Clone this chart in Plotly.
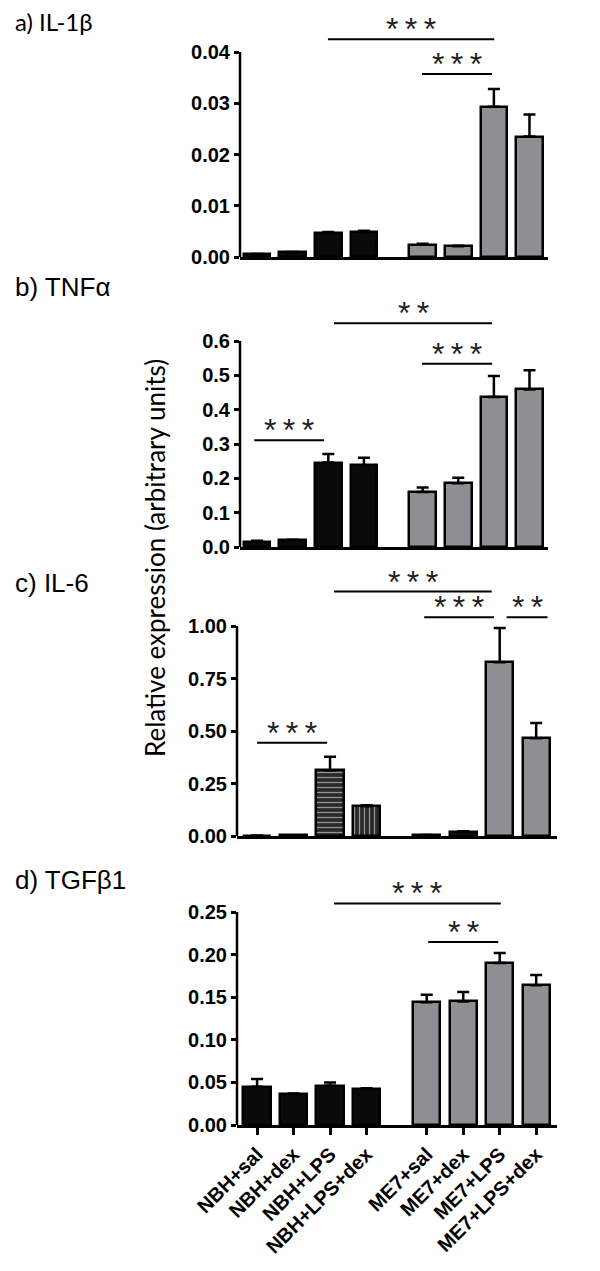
import plotly.graph_objects as go

# ---------------- data ----------------
categories = ["NBH+sal", "NBH+dex", "NBH+LPS", "NBH+LPS+dex",
              "ME7+sal", "ME7+dex", "ME7+LPS", "ME7+LPS+dex"]

il1b_mean = [0.0005, 0.0009, 0.0046, 0.0048, 0.0024, 0.0021, 0.0293, 0.0235]
il1b_sem = [0.0001, 0.0001, 0.0003, 0.0003, 0.0002, 0.0001, 0.0035, 0.0043]
il1b_ticks = [0.00, 0.01, 0.02, 0.03, 0.04]

tnfa_mean = [0.016, 0.019, 0.246, 0.238, 0.160, 0.186, 0.437, 0.459]
tnfa_sem = [0.002, 0.002, 0.025, 0.022, 0.013, 0.016, 0.061, 0.056]
tnfa_ticks = [0.0, 0.1, 0.2, 0.3, 0.4, 0.5, 0.6]

il6_mean = [0.002, 0.003, 0.313, 0.142, 0.004, 0.019, 0.827, 0.465]
il6_sem = [0.0, 0.0, 0.064, 0.005, 0.001, 0.004, 0.163, 0.073]
il6_ticks = [0.00, 0.25, 0.50, 0.75, 1.00]

tgfb1_mean = [0.045, 0.036, 0.046, 0.042, 0.144, 0.145, 0.190, 0.164]
tgfb1_sem = [0.009, 0.001, 0.004, 0.001, 0.009, 0.011, 0.012, 0.012]
tgfb1_ticks = [0.00, 0.05, 0.10, 0.15, 0.20, 0.25]

# significance brackets: (start, end, height, label)
il1b_sig = [(1.99, 6.66, 0.0425, "***"), (4.63, 6.60, 0.0357, "***")]
tnfa_sig = [(2.16, 6.60, 0.652, "**"), (4.63, 6.60, 0.534, "***"), (-0.08, 1.88, 0.311, "***")]
il6_sig = [(2.11, 6.43, 1.164, "***"), (4.58, 6.49, 1.042, "***"),
           (6.84, 7.96, 1.042, "**"), (0.0, 1.92, 0.444, "***")]
tgfb1_sig = [(2.11, 6.68, 0.260, "***"), (4.69, 6.61, 0.2148, "**")]

panel_titles = ["a) IL-1β", "b) TNFα", "c) IL-6", "d) TGFβ1"]

# ---------------- layout helpers ----------------
W, H = 600, 1271
OFF = 8  # page body margin


def PX(x):
    return (x - OFF) / W


def PY(y):
    return 1 - (y - OFF) / H


GAP = 0.65
xpos = [i + (GAP if i >= 4 else 0) for i in range(len(categories))]
NBH_COLOR = "#0a0a0a"
ME7_COLOR = "#8e8e93"
colors = [NBH_COLOR] * 4 + [ME7_COLOR] * 4

panels = [
    dict(mean=il1b_mean, sem=il1b_sem, ticks=il1b_ticks, fmt=".2f", sig=il1b_sig,
         xl=240, xr=548, y0=257, ytop=15, xrange=[-0.48, 8.17], title_y=21, title_font="Lato"),
    dict(mean=tnfa_mean, sem=tnfa_sem, ticks=tnfa_ticks, fmt=".1f", sig=tnfa_sig,
         xl=240, xr=548, y0=547, ytop=295, xrange=[-0.48, 8.17], title_y=287, title_font="Liberation Sans"),
    dict(mean=il6_mean, sem=il6_sem, ticks=il6_ticks, fmt=".2f", sig=il6_sig,
         xl=237, xr=557, y0=836, ytop=565, xrange=[-0.55, 8.22], title_y=583, title_font="Liberation Sans"),
    dict(mean=tgfb1_mean, sem=tgfb1_sem, ticks=tgfb1_ticks, fmt=".2f", sig=tgfb1_sig,
         xl=237, xr=557, y0=1125, ytop=880, xrange=[-0.55, 8.22], title_y=880, title_font="Liberation Sans"),
]
# pixel position of the top tick for each panel (to get data range)
top_tick_px = [52, 341, 626, 912]

fig = go.Figure()
tickfont = dict(family="Liberation Sans", size=20, color="black", weight="bold")
STAR_SEP = "\u2009"

for k, p in enumerate(panels):
    n = "" if k == 0 else str(k + 1)
    xa, ya = "x" + n, "y" + n
    top_tick = p["ticks"][-1]
    scale = top_tick / (p["y0"] - top_tick_px[k])  # data units per pixel
    yr_top = (p["y0"] - p["ytop"]) * scale

    if k == 2:
        patt_shapes = ["", "", "-", "|", "", "", "", ""]
        cols = ["#111111", "#111111", "#2a2a2a", "#2a2a2a", "#111111", "#111111", ME7_COLOR, ME7_COLOR]
        pattern = dict(shape=patt_shapes, fgcolor="#777777", size=5, solidity=0.25)
    else:
        cols = colors
        pattern = None

    fig.add_trace(go.Bar(
        x=xpos, y=p["mean"], width=0.75,
        marker=dict(color=cols, line=dict(color="black", width=2.5),
                    pattern=pattern),
        error_y=dict(type="data", array=p["sem"], arrayminus=[0] * len(p["sem"]),
                     symmetric=False, color="black", thickness=2.5, width=6),
        xaxis=xa, yaxis=ya, showlegend=False,
    ))

    last = (k == len(panels) - 1)
    fig.update_layout(**{
        ("xaxis" + n): dict(
            domain=[PX(p["xl"]), PX(p["xr"])], range=p["xrange"], anchor=ya,
            showline=True, linecolor="black", linewidth=2.5,
            showgrid=False, zeroline=False, automargin=False,
            tickvals=xpos, ticktext=categories,
            showticklabels=last, ticks="outside" if last else "",
            ticklen=7, tickwidth=2.5, tickcolor="black",
            tickangle=-45, tickfont=tickfont, fixedrange=True,
        ),
        ("yaxis" + n): dict(
            domain=[PY(p["y0"]), PY(p["ytop"])], range=[0, yr_top], anchor=xa,
            showline=False, showgrid=False, zeroline=False, automargin=False,
            tickvals=p["ticks"], tickformat=p["fmt"],
            ticks="outside", ticklen=5, tickwidth=2.5, tickcolor="black",
            tickfont=tickfont, fixedrange=True,
        ),
    })

    # y axis line only up to the top tick
    fig.add_shape(type="line", xref=xa + " domain", yref=ya, x0=0, x1=0,
                  y0=0, y1=top_tick, line=dict(color="black", width=2.5))

    # significance brackets
    for (s, e, h, lab) in p["sig"]:
        fig.add_shape(type="line", xref=xa, yref=ya, x0=s, x1=e, y0=h, y1=h,
                      line=dict(color="black", width=2))
        fig.add_annotation(x=(s + e) / 2, y=h, xref=xa, yref=ya, text=STAR_SEP.join(lab),
                           showarrow=False, yanchor="bottom", yshift=-10,
                           font=dict(family="Liberation Sans", size=32, color="#222222"))

    # panel title
    fig.add_annotation(x=PX(13), y=PY(p["title_y"]), xref="paper", yref="paper",
                       text=panel_titles[k], showarrow=False, xanchor="left", yanchor="middle",
                       font=dict(family=p["title_font"], size=24 if k == 0 else 26, color="black"))

fig.add_annotation(x=PX(155), y=PY(558), xref="paper", yref="paper",
                   text="Relative expression (arbitrary units)", textangle=-90,
                   showarrow=False, xanchor="center", yanchor="middle",
                   font=dict(family="Lato", size=26, color="black"))

fig.update_layout(width=W, height=H, margin=dict(l=0, r=0, t=0, b=0, pad=0),
                  paper_bgcolor="white", plot_bgcolor="white", bargap=0)

fig.write_html("out.html")
